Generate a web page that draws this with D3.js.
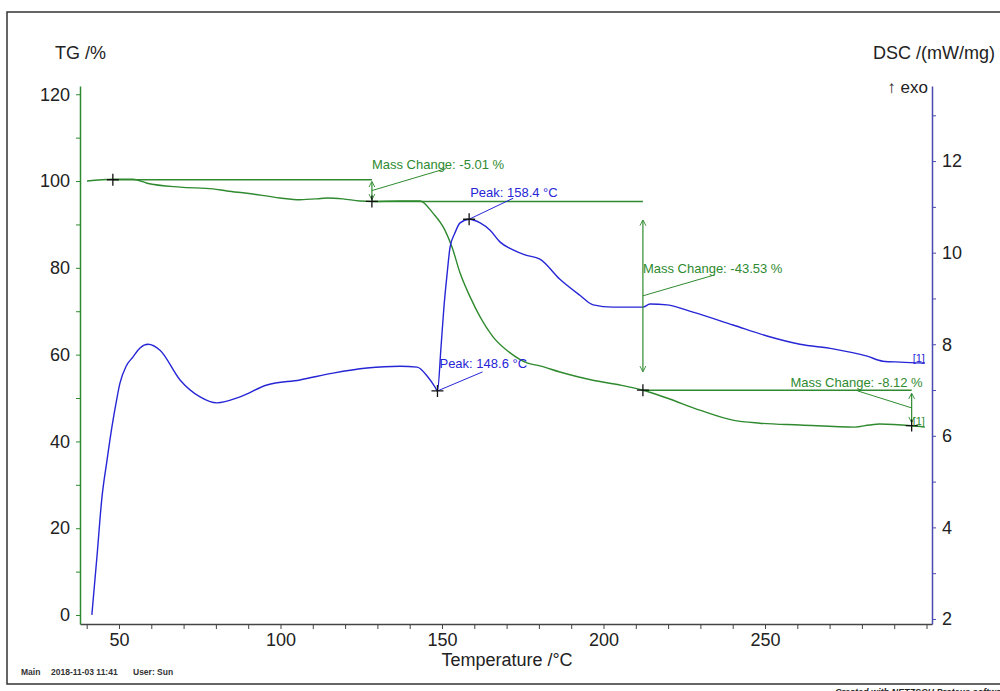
<!DOCTYPE html>
<html>
<head>
<meta charset="utf-8">
<script src="https://cdn.jsdelivr.net/npm/d3@7"></script>
<style>
	body { margin: 0; background: #fff; }
	svg { display: block; font-family: "Liberation Sans", Arial, sans-serif; }
	.tick text { fill: #222; font-size: 18px; }
</style>
</head>
<body>
<svg id="chart" width="1000" height="691"></svg>
<script>
// TG curve (temperature / mass %)
var tgTemp = [40.1, 48.1, 54.3, 58.7, 68.9, 79.1, 83.4, 89.6, 99.8, 106.0, 111.3, 114.4, 119.3, 124.6, 128.3,
	137.0, 143.2, 147.2, 150.9, 153.1, 155.6, 158.7, 161.8, 165.8, 171.1, 176.3, 180.3, 186.5, 196.7, 205.1,
	212.2, 219.6, 229.8, 240.0, 248.4, 260.8, 277.8, 282.4, 285.5, 295.4, 299.5];
var tgValue = [100.0, 100.4, 100.4, 99.5, 98.6, 98.2, 97.7, 97.2, 96.1, 95.7, 95.9, 96.1, 95.9, 95.4, 95.3,
	95.4, 95.4, 92.6, 88.7, 84.8, 78.8, 73.3, 68.7, 64.1, 60.4, 58.1, 57.4, 56.0, 54.1, 53.0,
	51.8, 50.0, 47.2, 44.9, 44.2, 43.8, 43.3, 43.8, 44.0, 43.6, 43.3];

// DSC curve (temperature / mW/mg)
var dscTemp = [41.6, 43.2, 44.7, 46.3, 47.8, 49.1, 50.3, 52.2, 54.3, 56.5, 59.0, 62.7, 68.9, 75.1, 80.3,
	87.5, 95.8, 106.0, 116.3, 126.8, 137.0, 142.3, 145.7, 147.8, 148.6, 149.7, 150.6, 151.6, 152.5, 154.0,
	155.6, 158.4, 161.8, 164.9, 168.0, 172.0, 175.7, 180.3, 186.5, 192.7, 196.8, 202.9, 212.2, 214.4,
	219.7, 227.7, 240.1, 250.6, 260.8, 271.1, 281.6, 286.5, 291.8, 299.5];
var dscValue = [2.09, 3.38, 4.64, 5.47, 6.19, 6.72, 7.15, 7.52, 7.72, 7.92, 8.00, 7.87, 7.22, 6.85, 6.72,
	6.85, 7.11, 7.22, 7.37, 7.48, 7.52, 7.50, 7.28, 7.07, 6.98, 7.94, 8.81, 9.55, 10.12, 10.43,
	10.65, 10.73, 10.65, 10.49, 10.23, 10.06, 9.95, 9.86, 9.42, 9.07, 8.86, 8.81, 8.81, 8.88,
	8.86, 8.70, 8.42, 8.18, 8.00, 7.90, 7.74, 7.63, 7.61, 7.59];

var tempTicks = [50, 100, 150, 200, 250];
var tgTicks = [0, 20, 40, 60, 80, 100, 120];
var dscTicks = [2, 4, 6, 8, 10, 12];

// mass change steps (temperature, TG level) and labels
var stepTemps = [48.1, 128.3, 212.2, 295.4];
var stepLevels = [100.3, 95.3, 51.8, 43.65];
var massLabels = ["Mass Change: -5.01 %", "Mass Change: -43.53 %", "Mass Change: -8.12 %"];

// DSC peaks
var peakTemps = [148.6, 158.4];
var peakValues = [6.98, 10.73];
var peakLabels = ["Peak: 148.6 \u00b0C", "Peak: 158.4 \u00b0C"];

var green = "#2f8a2f",
	blue = "#2626d6",
	blueAxis = "#4a4ab0";

var svg = d3.select("#chart");

var x = d3.scaleLinear().domain([37.93, 301.7]).range([80, 932]);
var yTG = d3.scaleLinear().domain([-2.07, 121.9]).range([624, 86]);
var yDSC = d3.scaleLinear().domain([1.89, 13.64]).range([624, 86]);

// frame
svg.append("rect")
	.attr("x", 7).attr("y", 12)
	.attr("width", 1010).attr("height", 672)
	.attr("fill", "none").attr("stroke", "#333").attr("stroke-width", 1.5);

svg.append("defs").append("marker")
	.attr("id", "arrowG")
	.attr("viewBox", "0 0 10 10")
	.attr("refX", 9).attr("refY", 5)
	.attr("markerWidth", 6).attr("markerHeight", 8)
	.attr("markerUnits", "userSpaceOnUse")
	.attr("orient", "auto-start-reverse")
	.append("path")
	.attr("d", "M0,0 L10,5 L0,10")
	.attr("fill", "none").attr("stroke", green).attr("stroke-width", 1.5);

// axes
var xAxis = svg.append("g")
	.attr("transform", "translate(0,624)")
	.call(d3.axisBottom(x).tickValues(d3.range(40, 301, 10))
		.tickSize(5).tickSizeOuter(0)
		.tickFormat(function(d) { return tempTicks.indexOf(d) >= 0 ? d : ""; }));
xAxis.select(".domain").attr("stroke", "#444").attr("stroke-width", 1.5);
xAxis.selectAll(".tick line").attr("stroke", "#444");
xAxis.selectAll(".tick text").attr("y", 9);

var leftAxis = svg.append("g")
	.attr("transform", "translate(80,0)")
	.call(d3.axisLeft(yTG).tickValues(d3.range(0, 121, 10))
		.tickSize(4).tickSizeOuter(0)
		.tickFormat(function(d) { return tgTicks.indexOf(d) >= 0 ? d : ""; }));
leftAxis.select(".domain").attr("stroke", green).attr("stroke-width", 1.5);
leftAxis.selectAll(".tick line").attr("stroke", green);
leftAxis.selectAll(".tick text").attr("x", -10);

var rightAxis = svg.append("g")
	.attr("transform", "translate(932,0)")
	.call(d3.axisRight(yDSC).tickValues(d3.range(2, 14, 1))
		.tickSize(4).tickSizeOuter(0)
		.tickFormat(function(d) { return dscTicks.indexOf(d) >= 0 ? d : ""; }));
rightAxis.select(".domain").attr("stroke", blueAxis).attr("stroke-width", 1.5);
rightAxis.selectAll(".tick line").attr("stroke", blueAxis);
rightAxis.selectAll(".tick text").attr("x", 10);

// axis titles
svg.append("text").attr("x", 55).attr("y", 59).attr("font-size", 18).attr("fill", "#222").text("TG /%");
svg.append("text").attr("x", 995).attr("y", 59).attr("font-size", 18).attr("fill", "#222")
	.attr("text-anchor", "end").text("DSC /(mW/mg)");
svg.append("text").attr("x", 928).attr("y", 93).attr("font-size", 17).attr("fill", "#222")
	.attr("text-anchor", "end").text("\u2191 exo");
svg.append("text").attr("x", 507).attr("y", 666).attr("font-size", 18).attr("fill", "#222")
	.attr("text-anchor", "middle").text("Temperature /\u00b0C");

// footer
var footer = svg.append("g").attr("font-size", 8.5).attr("font-weight", "bold").attr("fill", "#333");
footer.append("text").attr("x", 21).attr("y", 675).text("Main");
footer.append("text").attr("x", 51).attr("y", 675).text("2018-11-03 11:41");
footer.append("text").attr("x", 133).attr("y", 675).text("User: Sun");
svg.append("text").attr("x", 835).attr("y", 695).attr("font-size", 9).attr("font-style", "italic")
	.attr("font-weight", "bold").attr("fill", "#222").text("Created with NETZSCH Proteus software");

// curves
var tgLine = d3.line()
	.x(function(d, i) { return x(tgTemp[i]); })
	.y(function(d) { return yTG(d); })
	.curve(d3.curveMonotoneX);
var dscLine = d3.line()
	.x(function(d, i) { return x(dscTemp[i]); })
	.y(function(d) { return yDSC(d); })
	.curve(d3.curveMonotoneX);

svg.append("path").attr("d", tgLine(tgValue))
	.attr("fill", "none").attr("stroke", green).attr("stroke-width", 1.4);
svg.append("path").attr("d", dscLine(dscValue))
	.attr("fill", "none").attr("stroke", blue).attr("stroke-width", 1.4);

// mass change steps
var ann = svg.append("g").attr("font-size", 13);
var massLayout = [
	{ lx: 74, ly: -22, tx: 0, ty: -22, anchor: "start" },
	{ lx: 72, ly: -21, tx: 0, ty: -23, anchor: "start" },
	{ lx: -54, ly: -17, tx: 11, ty: -21, anchor: "end" }
];
massLabels.forEach(function(label, i) {
	var x0 = x(stepTemps[i]), x1 = x(stepTemps[i + 1]);
	var y0 = yTG(stepLevels[i]), y1 = yTG(stepLevels[i + 1]);
	var inset = (y1 - y0) * 0.1;
	var mid = (y0 + y1) / 2;
	var lay = massLayout[i];
	ann.append("line")
		.attr("x1", x0).attr("x2", x1).attr("y1", y0).attr("y2", y0)
		.attr("stroke", green).attr("stroke-width", 1.4);
	ann.append("line")
		.attr("x1", x1).attr("x2", x1).attr("y1", y0 + inset).attr("y2", y1 - inset)
		.attr("stroke", green).attr("stroke-width", 1.2)
		.attr("marker-start", "url(#arrowG)").attr("marker-end", "url(#arrowG)");
	ann.append("line")
		.attr("x1", x1).attr("y1", mid).attr("x2", x1 + lay.lx).attr("y2", mid + lay.ly)
		.attr("stroke", green).attr("stroke-width", 1);
	ann.append("text")
		.attr("x", x1 + lay.tx).attr("y", mid + lay.ty)
		.attr("text-anchor", lay.anchor).attr("fill", green).text(label);
});

// peaks
var peakLayout = [
	{ lx: 45, ly: -19, tx: 2, ty: -23 },
	{ lx: 44, ly: -21, tx: 1, ty: -22 }
];
peakLabels.forEach(function(label, i) {
	var px = x(peakTemps[i]), py = yDSC(peakValues[i]);
	var lay = peakLayout[i];
	ann.append("line")
		.attr("x1", px).attr("y1", py).attr("x2", px + lay.lx).attr("y2", py + lay.ly)
		.attr("stroke", blue).attr("stroke-width", 1);
	ann.append("text")
		.attr("x", px + lay.tx).attr("y", py + lay.ty)
		.attr("fill", blue).text(label);
});

// cross markers
var crosses = stepTemps.map(function(t, i) { return [x(t), yTG(stepLevels[i])]; })
	.concat(peakTemps.map(function(t, i) { return [x(t), yDSC(peakValues[i])]; }));
svg.append("g").selectAll("path").data(crosses).enter().append("path")
	.attr("d", function(d) {
		return "M" + (d[0] - 6) + "," + d[1] + "H" + (d[0] + 6) + "M" + d[0] + "," + (d[1] - 6) + "V" + (d[1] + 6);
	})
	.attr("stroke", "#111").attr("stroke-width", 1.3);

// curve end tags
var lastTG = tgValue.length - 1, lastDSC = dscValue.length - 1;
svg.append("text").attr("x", x(dscTemp[lastDSC])).attr("y", yDSC(dscValue[lastDSC]) - 1)
	.attr("text-anchor", "end").attr("font-size", 11).attr("fill", blue).text("[1]");
svg.append("text").attr("x", x(tgTemp[lastTG])).attr("y", yTG(tgValue[lastTG]) - 2)
	.attr("text-anchor", "end").attr("font-size", 11).attr("fill", green).text("[1]");
</script>
</body>
</html>
